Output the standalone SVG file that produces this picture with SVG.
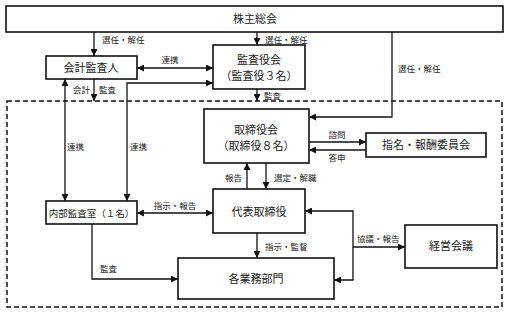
<svg xmlns="http://www.w3.org/2000/svg" width="509" height="313" viewBox="0 0 509 313">
<style>
.box{fill:#fff;stroke:#111;stroke-width:1.6}
.ln{fill:none;stroke:#111;stroke-width:1.3}
.t{font-family:"Noto Sans CJK JP",sans-serif;font-size:11px;fill:#222;text-anchor:middle}
.s{font-family:"Noto Sans CJK JP",sans-serif;font-size:8.5px;fill:#222}
.c{text-anchor:middle}
</style>
<defs>
<marker id="ah" viewBox="0 0 10 10" refX="10" refY="5" markerWidth="7" markerHeight="7" orient="auto-start-reverse" markerUnits="userSpaceOnUse"><path d="M0,0 L10,5 L0,10z" fill="#111"/></marker>
</defs>
<rect x="7" y="101" width="495" height="206" fill="none" stroke="#111" stroke-width="1.5" stroke-dasharray="5 3"/>
<g id="connectors">
<line class="ln" x1="94" y1="32" x2="94" y2="56" marker-end="url(#ah)"/>
<line class="ln" x1="257" y1="32" x2="257" y2="45" marker-end="url(#ah)"/>
<polyline class="ln" points="392,32 392,117 309,117" marker-end="url(#ah)"/>
<line class="ln" x1="137" y1="68" x2="213" y2="68" marker-start="url(#ah)" marker-end="url(#ah)"/>
<line class="ln" x1="94" y1="79" x2="94" y2="101" marker-end="url(#ah)"/>
<line class="ln" x1="257" y1="89" x2="257" y2="101" marker-end="url(#ah)"/>
<line class="ln" x1="65" y1="79" x2="65" y2="201" marker-start="url(#ah)" marker-end="url(#ah)"/>
<polyline class="ln" points="127,201 127,83 213,83" marker-start="url(#ah)" marker-end="url(#ah)"/>
<line class="ln" x1="309" y1="142" x2="366" y2="142" marker-end="url(#ah)"/>
<line class="ln" x1="366" y1="150" x2="309" y2="150" marker-end="url(#ah)"/>
<line class="ln" x1="247" y1="189" x2="247" y2="163" marker-end="url(#ah)"/>
<line class="ln" x1="266" y1="163" x2="266" y2="189" marker-end="url(#ah)"/>
<line class="ln" x1="137" y1="213" x2="213" y2="213" marker-start="url(#ah)" marker-end="url(#ah)"/>
<line class="ln" x1="257" y1="233" x2="257" y2="258" marker-end="url(#ah)"/>
<polyline class="ln" points="92,224 92,279 178,279" marker-end="url(#ah)"/>
<polyline class="ln" points="305,211 353,211 353,280 334,280" marker-start="url(#ah)" marker-end="url(#ah)"/>
<line class="ln" x1="353" y1="247" x2="405" y2="247" marker-end="url(#ah)"/>
</g>
<g id="n1"><rect class="box" x="6" y="6" width="497" height="26"/><text class="t" x="255" y="23">株主総会</text></g>
<g id="n2"><rect class="box" x="46" y="56" width="91" height="23"/><text class="t" x="91" y="71.5">会計監査人</text></g>
<g id="n3"><rect class="box" x="213" y="45" width="92" height="44"/><text class="t" x="259" y="64">監査役会</text><text class="t" x="259" y="80">（監査役３名）</text></g>
<g id="n4"><rect class="box" x="204" y="109" width="105" height="54"/><text class="t" x="256" y="134">取締役会</text><text class="t" x="256" y="150">（取締役８名）</text></g>
<g id="n5"><rect class="box" x="366" y="133" width="120" height="24"/><text class="t" x="426" y="149">指名・報酬委員会</text></g>
<g id="n6"><rect class="box" x="46" y="201" width="91" height="23"/><text class="t" x="91.5" y="216.5" style="font-size:9.5px">内部監査室（１名）</text></g>
<g id="n7"><rect class="box" x="213" y="189" width="92" height="44"/><text class="t" x="259" y="216">代表取締役</text></g>
<g id="n8"><rect class="box" x="178" y="258" width="156" height="41"/><text class="t" x="256" y="283">各業務部門</text></g>
<g id="n9"><rect class="box" x="405" y="225" width="92" height="43"/><text class="t" x="451" y="250">経営会議</text></g>
<g id="labels">
<text class="s" x="102" y="43">選任・解任</text>
<text class="s" x="265" y="43">選任・解任</text>
<text class="s" x="398" y="72">選任・解任</text>
<text class="s c" x="170" y="63">連携</text>
<text class="s" x="73" y="93">会計</text>
<text class="s" x="99" y="93">監査</text>
<text class="s" x="264" y="99">監査</text>
<text class="s" x="67" y="150">連携</text>
<text class="s" x="130" y="150">連携</text>
<text class="s c" x="337" y="138">諮問</text>
<text class="s c" x="337" y="161">答申</text>
<text class="s" x="225" y="181">報告</text>
<text class="s" x="274" y="181">選定・解職</text>
<text class="s c" x="175" y="209">指示・報告</text>
<text class="s" x="265" y="250">指示・監督</text>
<text class="s" x="100" y="272">監査</text>
<text class="s" x="357" y="242">協議・報告</text>
</g>
</svg>
